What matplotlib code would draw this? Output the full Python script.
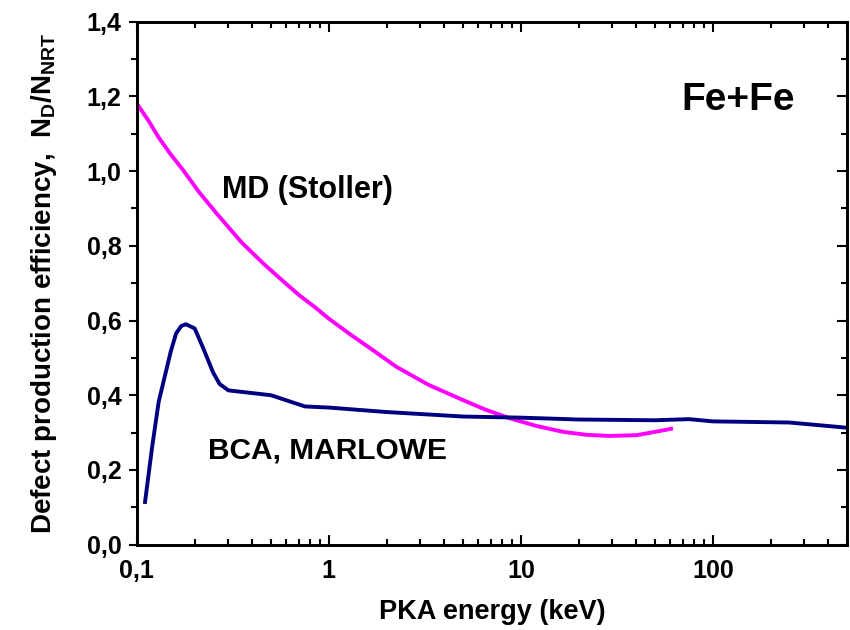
import numpy as np
import matplotlib
matplotlib.use("Agg")
import matplotlib.pyplot as plt
from matplotlib.ticker import FixedLocator, LogLocator, NullFormatter, MultipleLocator

plt.rcParams['font.family'] = ['Liberation Sans', 'DejaVu Sans']
plt.rcParams['font.weight'] = 'bold'
plt.rcParams['mathtext.fontset'] = 'custom'
plt.rcParams['mathtext.rm'] = 'Liberation Sans:bold'
plt.rcParams['mathtext.bf'] = 'Liberation Sans:bold'

# MD (Stoller) curve
md_E = [0.1, 0.115, 0.13, 0.15, 0.174, 0.21, 0.26, 0.3, 0.35, 0.455, 0.57, 0.7, 0.85, 1.0,
        1.3, 1.64, 2.25, 3.3, 5.0, 6.5, 8.8, 12.0, 16.6, 22.0, 29.0, 40.0, 50.0, 62.0]
md_y = [1.181, 1.135, 1.09, 1.045, 1.003, 0.945, 0.887, 0.85, 0.81, 0.753, 0.708, 0.668,
        0.635, 0.605, 0.562, 0.526, 0.476, 0.428, 0.387, 0.362, 0.338, 0.318, 0.302, 0.294,
        0.291, 0.293, 0.302, 0.311]

# BCA, MARLOWE curve
bca_E = [0.11, 0.12, 0.13, 0.15, 0.16, 0.17, 0.18, 0.2, 0.22, 0.25, 0.27, 0.3,
         0.5, 0.75, 1.0, 2.0, 5.0, 10.0, 20.0, 50.0, 75.0, 100.0, 250.0, 500.0]
bca_y = [0.109, 0.26, 0.383, 0.516, 0.565, 0.585, 0.590, 0.579, 0.53, 0.46, 0.43, 0.413,
         0.400, 0.370, 0.367, 0.355, 0.343, 0.340, 0.335, 0.333, 0.336, 0.330, 0.327, 0.313]

x_major = [0.1, 1, 10, 100]
x_labels = ["0,1", "1", "10", "100"]
y_major = [0.0, 0.2, 0.4, 0.6, 0.8, 1.0, 1.2, 1.4]
y_labels = ["0,0", "0,2", "0,4", "0,6", "0,8", "1,0", "1,2", "1,4"]

xlim = (0.1, 500)
ylim = (0.0, 1.4)

fig = plt.figure(figsize=(8.5, 6.3), dpi=100)
ax = fig.add_axes([0.161, 0.1355, 0.8355, 0.830])

ax.plot(md_E, md_y, color='#FF00FF', lw=2.8, solid_capstyle='butt')
ax.plot(bca_E, bca_y, color='#000080', lw=2.8, solid_capstyle='butt')

ax.set_xscale('log')
ax.set_xlim(*xlim)
ax.set_ylim(*ylim)

ax.xaxis.set_major_locator(FixedLocator(x_major))
ax.set_xticklabels(x_labels)
ax.xaxis.set_minor_locator(LogLocator(base=10, subs=np.arange(2, 10)))
ax.xaxis.set_minor_formatter(NullFormatter())
ax.set_yticks(y_major)
ax.set_yticklabels(y_labels)
ax.yaxis.set_minor_locator(MultipleLocator(0.1))

ax.tick_params(axis='x', which='both', direction='in', top=False, labelsize=18, pad=10, width=1.5)
ax.tick_params(axis='x', which='major', length=7)
ax.tick_params(axis='x', which='minor', length=4)
ax.tick_params(axis='y', which='both', direction='out', right=False, labelsize=18, pad=5, width=1.5)
ax.tick_params(axis='y', which='major', length=6)
ax.tick_params(axis='y', which='minor', length=4)

# mirrored inward ticks on top and right
axr = ax.twinx()
axr.set_ylim(*ylim)
axr.set_yticks(y_major)
axr.yaxis.set_minor_locator(MultipleLocator(0.1))
axr.tick_params(axis='y', which='both', direction='in', labelright=False, width=1.5)
axr.tick_params(axis='y', which='major', length=7)
axr.tick_params(axis='y', which='minor', length=4)

axt = ax.twiny()
axt.set_xscale('log')
axt.set_xlim(*xlim)
axt.xaxis.set_major_locator(FixedLocator(x_major))
axt.xaxis.set_minor_locator(LogLocator(base=10, subs=np.arange(2, 10)))
axt.tick_params(axis='x', which='both', direction='in', labeltop=False, width=1.5)
axt.tick_params(axis='x', which='major', length=7)
axt.tick_params(axis='x', which='minor', length=4)

for a in (ax, axr, axt):
    for s in a.spines.values():
        s.set_linewidth(1.8)

ax.set_xlabel("PKA energy (keV)", fontsize=19.5, fontweight='bold', labelpad=12)
ax.set_ylabel(r"Defect production efficiency,  N$_\mathbf{D}$/N$_\mathbf{NRT}$",
              fontsize=20, fontweight='bold', labelpad=20)

ax.text(0.277, 0.949, "MD (Stoller)", fontsize=22, fontweight='bold', va='center')
ax.text(0.234, 0.253, "BCA, MARLOWE", fontsize=21.5, fontweight='bold', va='center')
ax.text(0.847, 0.85, "Fe+Fe", transform=ax.transAxes, fontsize=28, fontweight='bold',
        ha='center', va='center')

fig.savefig("out.png", dpi=100)
